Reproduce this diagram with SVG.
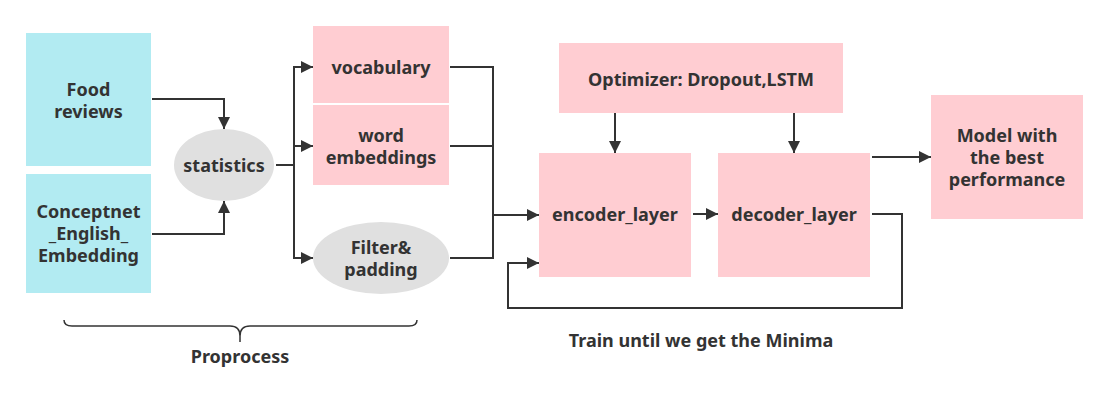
<svg xmlns="http://www.w3.org/2000/svg" width="1109" height="404" viewBox="0 0 1109 404">
<defs>
<style>
.cyan{fill:#b2ebf2;}
.pink{fill:#ffcdd2;}
.grey{fill:#e0e0e0;}
text{font-family:"Noto Sans","Open Sans","Liberation Sans",sans-serif;font-weight:bold;font-size:18px;fill:#333333;text-anchor:middle;}
.conn path{fill:none;stroke:#333333;stroke-width:2;marker-end:url(#arrow);}
.brace{fill:none;stroke:#333333;stroke-width:1.5;}
</style>
<marker id="arrow" markerUnits="userSpaceOnUse" markerWidth="12" markerHeight="12" viewBox="0 0 12 12" refX="12" refY="6" orient="auto">
<path d="M0,0 L12,6 L0,12 z" fill="#333333"/>
</marker>
</defs>
<rect width="1109" height="404" fill="#ffffff"/>

<g id="food-reviews">
<rect class="cyan" x="26" y="33" width="125" height="133"/>
<text x="88.5" y="95.5">Food</text>
<text x="88.5" y="117.5">reviews</text>
</g>
<g id="conceptnet">
<rect class="cyan" x="26" y="174" width="125" height="119"/>
<text x="88.5" y="218">Conceptnet</text>
<text x="88.5" y="240">_English_</text>
<text x="88.5" y="262">Embedding</text>
</g>
<g id="statistics">
<ellipse class="grey" cx="224" cy="165" rx="50" ry="36"/>
<text x="224" y="171.5">statistics</text>
</g>
<g id="vocabulary">
<rect class="pink" x="313" y="26" width="136" height="77"/>
<text x="381" y="73.5">vocabulary</text>
</g>
<g id="word-embeddings">
<rect class="pink" x="313" y="105" width="136" height="80"/>
<text x="381" y="141.5">word</text>
<text x="381" y="163.5">embeddings</text>
</g>
<g id="filter-padding">
<ellipse class="grey" cx="381" cy="258" rx="68" ry="36"/>
<text x="381" y="253.5">Filter&amp;</text>
<text x="381" y="275.5">padding</text>
</g>
<g id="optimizer">
<rect class="pink" x="559" y="43" width="284" height="70"/>
<text x="701" y="85.5">Optimizer: Dropout,LSTM</text>
</g>
<g id="encoder-layer">
<rect class="pink" x="539" y="153" width="152" height="124"/>
<text x="615" y="220.5">encoder_layer</text>
</g>
<g id="decoder-layer">
<rect class="pink" x="718" y="153" width="152" height="124"/>
<text x="794" y="220.5">decoder_layer</text>
</g>
<g id="model">
<rect class="pink" x="931" y="95" width="152" height="124"/>
<text x="1007" y="141.5">Model with</text>
<text x="1007" y="163.5">the best</text>
<text x="1007" y="185.5">performance</text>
</g>

<g id="connectors" class="conn">
<path d="M152,99 H224 V129"/>
<path d="M152,234 H224 V201"/>
<path d="M276,165 H294 V67 H313"/>
<path d="M294,146 H313"/>
<path d="M294,165 V258 H313"/>
<path d="M450,67 H493 V215 H539"/>
<path d="M450,146 H493" style="marker-end:none"/>
<path d="M450,258 H493 V215" style="marker-end:none"/>
<path d="M615,113 V153"/>
<path d="M794,113 V153"/>
<path d="M693,214 H718"/>
<path d="M872,157 H931"/>
<path d="M872,214 H902 V308 H508 V263 H539"/>
</g>

<g id="proprocess">
<path class="brace" d="M64,320 Q64,326 72,326 H230 Q240,326 240,336 V342 M240,336 Q240,326 250,326 H409 Q417,326 417,320"/>
<text x="240" y="362.5">Proprocess</text>
</g>
<g id="train-label">
<text x="701" y="346.5">Train until we get the Minima</text>
</g>
</svg>
